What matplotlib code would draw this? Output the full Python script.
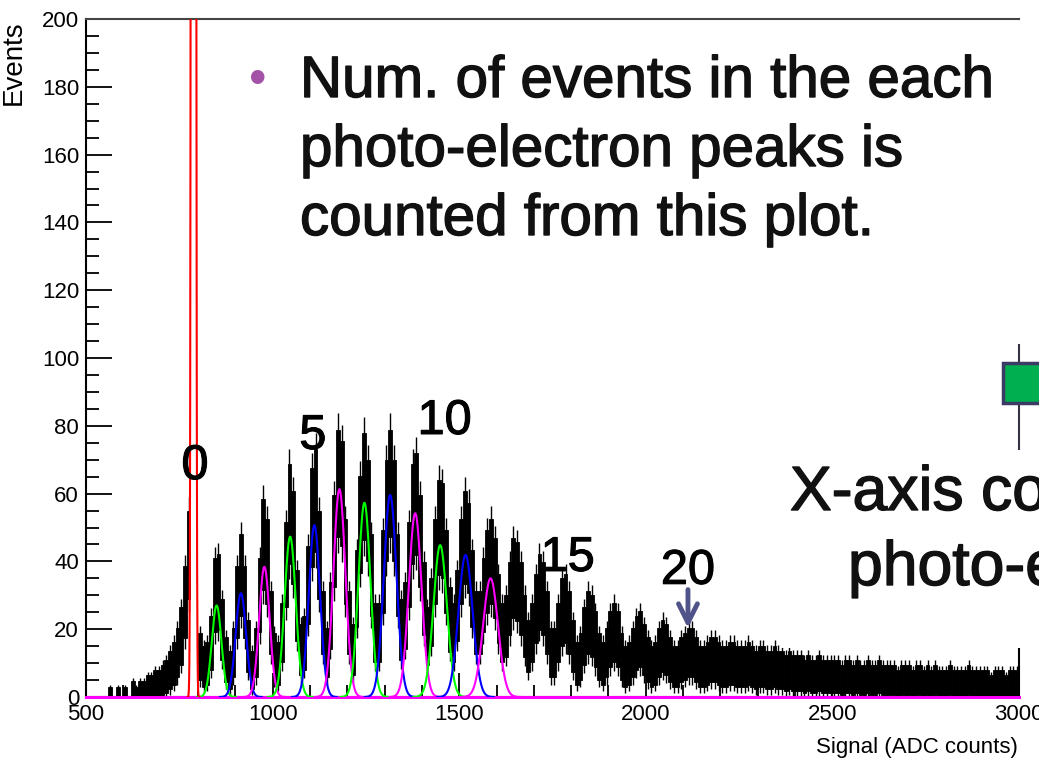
import numpy as np
import matplotlib
matplotlib.use("Agg")
import matplotlib.pyplot as plt
import matplotlib.patheffects as pe
from matplotlib.ticker import MultipleLocator
from matplotlib.patches import Rectangle

plt.rcParams['font.family'] = ['Liberation Sans', 'DejaVu Sans']

# ---- data ----
# black histogram, 10 ADC bins from 500 to 3000 (events per bin as drawn)
bin_edges = np.arange(500, 3010, 10)
counts = [
    0, 0, 0, 0, 0, 0, 1, 0, 1, 0,            # 500
    1, 0, 2, 1, 2, 2, 3, 3, 4, 4,            # 600
    5, 6, 8, 10, 13, 18, 28, 42, 1500, 1200,  # 700 (pedestal off scale)
    12, 9, 10, 16, 30, 31, 20, 11, 8, 13,    # 800
    28, 36, 28, 15, 8, 13, 30, 45, 40, 22,   # 900
    12, 10, 19, 39, 54, 47, 27, 14, 16, 33,  # 1000
    53, 58, 42, 22, 13, 24, 46, 63, 60, 40,  # 1100
    22, 14, 32, 51, 62, 55, 36, 19, 19, 37,  # 1200
    55, 63, 55, 36, 20, 24, 39, 54, 57, 46,  # 1300
    29, 18, 25, 40, 50, 49, 37, 23, 19, 27,  # 1400
    40, 47, 44, 32, 22, 22, 30, 37, 40, 35,  # 1500
    26, 19, 21, 29, 35, 34, 29, 21, 15, 19,  # 1600
    26, 31, 29, 22, 13, 13, 19, 25, 26, 22,  # 1700
    15, 10, 12, 18, 22, 21, 17, 12, 10, 13,  # 1800
    17, 19, 17, 12, 9, 10, 13, 16, 17, 14,   # 1900
    11, 9, 10, 13, 15, 14, 11, 9, 9, 11,     # 2000
    12, 13, 13, 11, 9, 9, 10, 11, 11, 10,    # 2100
    9, 9, 10, 10, 9, 9, 9, 10, 9, 8,         # 2200
    9, 9, 8, 8, 9, 8, 8, 7, 8, 7,            # 2300
    7, 7, 6, 7, 6, 6, 7, 6, 6, 6,            # 2400
    6, 6, 5, 6, 6, 5, 6, 5, 5, 6,            # 2500
    5, 5, 6, 5, 5, 5, 5, 4, 5, 5,            # 2600
    5, 4, 5, 5, 4, 5, 4, 5, 4, 4,            # 2700
    4, 5, 4, 4, 4, 4, 5, 4, 4, 4,            # 2800
    4, 4, 3, 4, 4, 4, 3, 4, 4, 4,            # 2900
]

# gaussian fits of the photo-electron peaks 1..12
fit_means = [850, 915, 978, 1047, 1112, 1179, 1246, 1315, 1382, 1449, 1517, 1584]
fit_amps = [27, 30.6, 38.4, 47.3, 50.7, 61.3, 57.3, 59.6, 54.2, 44.8, 41.9, 35]
fit_sigmas = [13, 14, 14, 15, 15, 16, 16, 17, 17, 18, 19, 20]
fit_colors = ['#00ff00', '#0000ff', '#ff00ff'] * 4

# pedestal fit (goes far off scale)
ped_mean, ped_amp, ped_sigma = 788, 4000, 3.2

# peak number labels: (label, x ADC, baseline y events)
peak_labels = ['0', '5', '10', '15', '20']
label_x = [792, 1108, 1461, 1791, 2113]
label_y = [64.3, 73.2, 77.6, 37.2, 33.4]

W, H = 1039, 765
fig = plt.figure(figsize=(W / 100, H / 100), dpi=100)
ax = fig.add_axes([86 / W, 68 / H, 933 / W, 678 / H])

# histogram drawn as its error band (fine-binned error bars merge into a band)
centers = bin_edges[:-1] + 5
cnt = np.array(counts, dtype=float)
err = 2 * np.sqrt(cnt)
lo = np.clip(cnt - err, 0, None)
ax.bar(centers, cnt + err - lo, bottom=lo, width=10, color='black',
       edgecolor='black', linewidth=0.6, zorder=2)
ax.errorbar(centers, cnt, yerr=np.sqrt(cnt) * 2.6, fmt='none',
            ecolor='black', elinewidth=1.0, capsize=0, zorder=2)

# baseline function drawn along zero
ax.plot([500, 3000], [0, 0], color='#ff00ff', lw=2.2, clip_on=False, zorder=3)

for m, a, s, c in zip(fit_means, fit_amps, fit_sigmas, fit_colors):
    xs = np.linspace(m - 4 * s, m + 4 * s, 200)
    ax.plot(xs, a * np.exp(-0.5 * ((xs - m) / s) ** 2), color=c, lw=1.5, zorder=4)

xs = np.linspace(ped_mean - 16, ped_mean + 16, 400)
ax.plot(xs, ped_amp * np.exp(-0.5 * ((xs - ped_mean) / ped_sigma) ** 2),
        color='#ff0000', lw=1.5, zorder=4)

ax.set_xlim(500, 3000)
ax.set_ylim(0, 200)
ax.xaxis.set_major_locator(MultipleLocator(500))
ax.xaxis.set_minor_locator(MultipleLocator(100))
ax.yaxis.set_major_locator(MultipleLocator(20))
ax.yaxis.set_minor_locator(MultipleLocator(5))
ax.tick_params(which='both', direction='in', width=1.3, labelsize=16, colors='black')
ax.tick_params(axis='y', which='major', length=19, pad=5)
ax.tick_params(axis='y', which='minor', length=9.5)
ax.tick_params(axis='x', which='major', length=17, pad=5)
ax.tick_params(axis='x', which='minor', length=8.5)
for side in ['left', 'bottom', 'top']:
    ax.spines[side].set_linewidth(1.5)
ax.spines['top'].set_color('#444444')
ax.spines['right'].set_visible(False)
# right frame only shows between the slide boxes
ax.plot([1, 1], [0, 0.072], color='black', lw=1.5, transform=ax.transAxes, clip_on=False)
ax.plot([1, 1], [0.364, 0.519], color='#333344', lw=1.5, transform=ax.transAxes, clip_on=False)

fig.text(14 / W, 1 - 20 / H, 'Events', rotation=90, ha='center', va='top', fontsize=20)
fig.text(1018 / W, 1 - 748 / H, 'Signal (ADC counts)', ha='right', va='center', fontsize=16)

# peak numbers and arrow
thick = [pe.withStroke(linewidth=0.8, foreground='black')]
for t, x, y in zip(peak_labels, label_x, label_y):
    ax.text(x, y, t, ha='center', va='baseline', fontsize=35, color='black',
            zorder=6, path_effects=thick)
ax.annotate('', xy=(2113, 19.5), xytext=(2113, 32.5),
            arrowprops=dict(arrowstyle='->', color='#4f5389', lw=3.5, mutation_scale=34),
            zorder=6)

# slide overlay
fig.text(258 / W, 1 - 94 / H, '•', color='#a352a8', fontsize=36, ha='center', va='baseline')
thick2 = [pe.withStroke(linewidth=1.0, foreground='#111111')]
lines = ['Num. of events in the each', 'photo-electron peaks is', 'counted from this plot.']
for i, line in enumerate(lines):
    fig.text(300 / W, 1 - (97 + 69 * i) / H, line, fontsize=42,
             color='#111111', ha='left', va='baseline', path_effects=thick2)

fig.patches.append(Rectangle((780 / W, 1 - 648 / H), 1 - 780 / W, 198 / H,
                             transform=fig.transFigure, facecolor='white',
                             edgecolor='none', zorder=5))
fig.patches.append(Rectangle((1003 / W, 1 - 403 / H), 60 / W, 40 / H,
                             transform=fig.transFigure, facecolor='#00b050',
                             edgecolor='#3b3b66', lw=2.5, zorder=5))
fig.text(790 / W, 1 - 510 / H, 'X-axis co', fontsize=45,
         color='#111111', ha='left', va='baseline', zorder=6, path_effects=thick2)
fig.text(848 / W, 1 - 585 / H, 'photo-e', fontsize=45,
         color='#111111', ha='left', va='baseline', zorder=6, path_effects=thick2)

fig.savefig('out.png', dpi=100)
